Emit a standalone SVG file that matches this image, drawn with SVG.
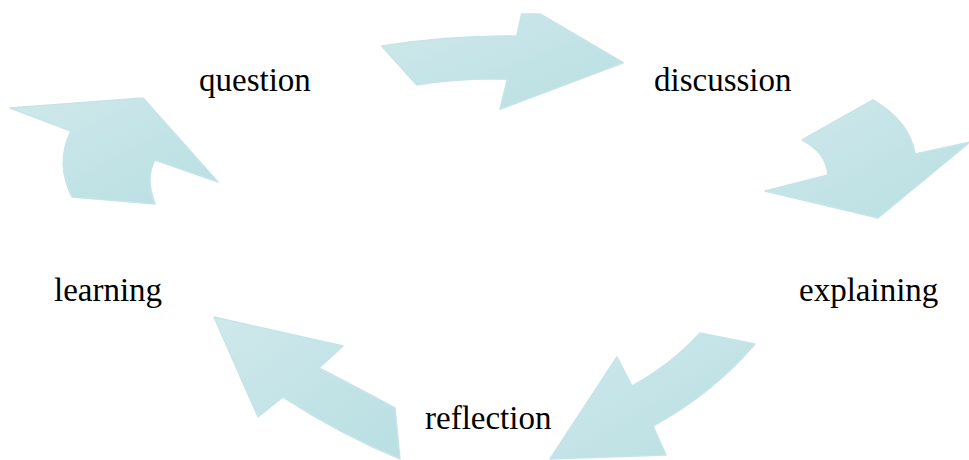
<svg xmlns="http://www.w3.org/2000/svg" width="969" height="460" viewBox="0 0 969 460">
<defs>
<linearGradient id="g" x1="0" y1="0" x2="1" y2="1">
<stop offset="0" stop-color="#cfe8eb"/>
<stop offset="1" stop-color="#b8dfe2"/>
</linearGradient>
<style>
.arr{fill:url(#g);stroke:#c6e4e7;stroke-width:1.5;stroke-linejoin:round}
.lbl{font-family:"Liberation Serif","Times New Roman",serif;font-size:33px;fill:#000}
</style>
</defs>
<rect width="969" height="460" fill="#fff"/>
<g id="connectors">
<path id="arrow-question-discussion" class="arr" d="M381.7,46 Q450,35 516.7,36 L521.7,14 L540,14 L623.3,62.7 L500,109.3 L507.3,79.3 Q460,78 416.7,85 Z"/>
<path id="arrow-discussion-explaining" class="arr" d="M873,100 Q910,122 915,154 L970,142 L878,218 L765,191 L828,175 Q826,152 802,140 Z"/>
<path id="arrow-explaining-reflection" class="arr" d="M700,333 L755,344 Q712,394 653,426 L666,455 L550,459 L617,357 L632,386 Q672,364 700,333 Z"/>
<path id="arrow-reflection-learning" class="arr" d="M214,317 L343,346 L319,368 Q362,390 395,408 L400,459 Q340,434 283,397 L258,417 Z"/>
<path id="arrow-learning-question" class="arr" d="M10,108 L143,98 L218,182 L155,160 Q145,178 155,204 L72,197 Q55,163 71,131 Z"/>
</g>
<g id="node-question"><text class="lbl" x="199" y="91">question</text></g>
<g id="node-discussion"><text class="lbl" x="654" y="91">discussion</text></g>
<g id="node-explaining"><text class="lbl" x="799" y="301">explaining</text></g>
<g id="node-reflection"><text class="lbl" x="425" y="429">reflection</text></g>
<g id="node-learning"><text class="lbl" x="54" y="301">learning</text></g>
</svg>
